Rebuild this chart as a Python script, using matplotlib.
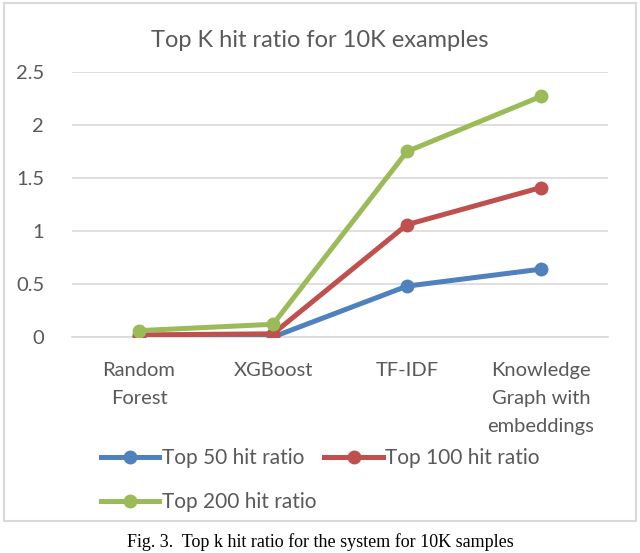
import matplotlib.pyplot as plt
import matplotlib.patches as mpatches

# data
categories = ["Random\nForest", "XGBoost", "TF-IDF", "Knowledge\nGraph with\nembeddings"]
top50 = [0.0, 0.0, 0.48, 0.64]
top100 = [0.02, 0.03, 1.06, 1.41]
top200 = [0.06, 0.12, 1.75, 2.27]
yticks = [0, 0.5, 1, 1.5, 2, 2.5]
yticklabels = ["0", "0.5", "1", "1.5", "2", "2.5"]

plt.rcParams['font.family'] = ['Lato', 'DejaVu Sans']
txt = '#595959'

fig = plt.figure(figsize=(6.4, 5.53), dpi=100)
ax = fig.add_axes([0.1125, 0.3906, 0.8375, 0.4792])

x = range(len(categories))
l50, = ax.plot(x, top50, color='#4F81BD', lw=3.6, marker='o', ms=9, label='Top 50 hit ratio', zorder=3)
l100, = ax.plot(x, top100, color='#C0504D', lw=3.6, marker='o', ms=9, label='Top 100 hit ratio', zorder=4)
l200, = ax.plot(x, top200, color='#9BBB59', lw=3.6, marker='o', ms=9, label='Top 200 hit ratio', zorder=5)

ax.set_xlim(-0.5, len(categories) - 0.5)
ax.set_ylim(0, 2.5)
ax.set_yticks(yticks)
ax.set_yticklabels(yticklabels, fontsize=14.5, color=txt)
ax.set_xticks(list(x))
ax.set_xticklabels(categories, fontsize=14.5, color=txt, linespacing=1.8)
ax.tick_params(length=0, pad=18)
ax.tick_params(axis='y', pad=20)
ax.grid(axis='y', color='#D9D9D9', lw=1.2)
ax.set_axisbelow(True)
for s in ['top', 'right', 'left']:
    ax.spines[s].set_visible(False)
ax.spines['bottom'].set_color('#D9D9D9')
ax.spines['bottom'].set_linewidth(1.2)

fig.text(0.5, 0.927, "Top K hit ratio for 10K examples", ha='center', va='center',
         fontsize=17, color=txt)

# column-wise filling: 50 and 200 in first column, 100 in second
fig.legend([l50, l200, l100], ['Top 50 hit ratio', 'Top 200 hit ratio', 'Top 100 hit ratio'],
           loc='upper left', bbox_to_anchor=(0.145, 0.205), ncol=2, frameon=False,
           fontsize=15, labelcolor=txt, handlelength=2.8, handletextpad=0.1,
           columnspacing=0.4, labelspacing=1.15, borderaxespad=0)

# chart border
fig.patches.append(mpatches.Rectangle((0.006, 0.058), 0.988, 0.937, transform=fig.transFigure,
                                      fill=False, ec='#D9D9D9', lw=1.5))

fig.text(0.5, 0.003, "Fig. 3.  Top k hit ratio for the system for 10K samples", ha='center',
         va='bottom', fontsize=13, family='Liberation Serif', color='black')

fig.savefig('out.png', dpi=100)
